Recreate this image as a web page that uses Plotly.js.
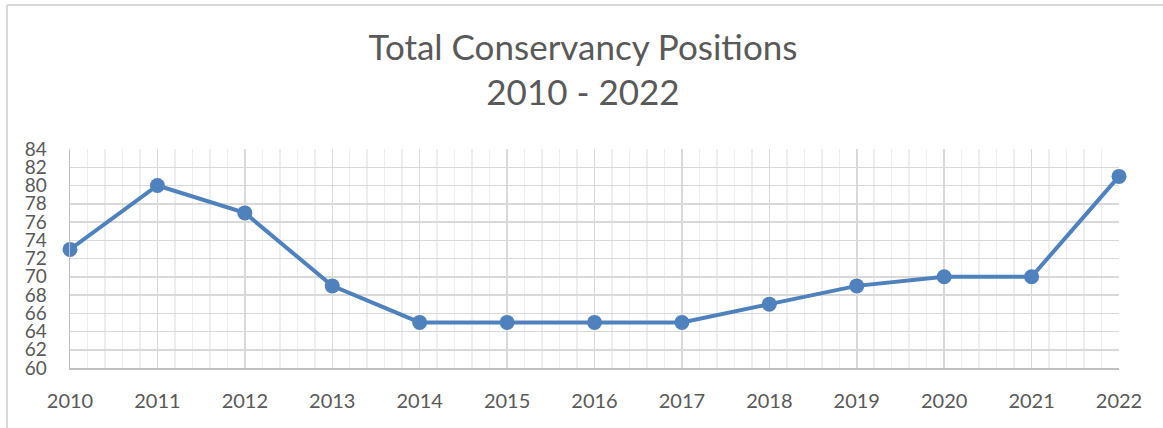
<!DOCTYPE html>
<html>
<head>
<meta charset="utf-8">
<script src="https://cdn.plot.ly/plotly-3.0.1.min.js"></script>
<style>html,body{margin:0;padding:0;background:#fff;}#chart{width:1163px;height:428px;}</style>
</head>
<body>
<div id="chart"></div>
<script>
const years = [2010, 2011, 2012, 2013, 2014, 2015, 2016, 2017, 2018, 2019, 2020, 2021, 2022];
const positions = [73, 80, 77, 69, 65, 65, 65, 65, 67, 69, 70, 70, 81];
const yTicks = [60, 62, 64, 66, 68, 70, 72, 74, 76, 78, 80, 82, 84];
const chartTitle = 'Total Conservancy Positions<br>2010 - 2022';

const trace = {
  x: years, y: positions, type: 'scatter', mode: 'lines+markers',
  line: {color: '#4f81bd', width: 4},
  marker: {color: '#4f81bd', size: 15},
  cliponaxis: false, hoverinfo: 'x+y'
};

const font = 'Lato, "Open Sans", sans-serif';
const layout = {
  width: 1163, height: 428,
  margin: {l: 70, r: 44, t: 149, b: 60},
  paper_bgcolor: '#fff', plot_bgcolor: '#fff',
  font: {family: font, color: '#595959', size: 20},
  title: {text: chartTitle, x: 0.489, xref: 'paper', y: 0.86, yanchor: 'middle',
          font: {family: font, size: 35, color: '#595959'}},
  showlegend: false,
  xaxis: {
    range: [2010, 2022], tickvals: years, ticktext: years.map(String),
    showgrid: true, gridcolor: '#d9d9d9', gridwidth: 1.5,
    minor: {dtick: 0.2, showgrid: true, gridcolor: '#eeeeee', gridwidth: 1.5},
    showline: true, linecolor: '#bfbfbf', linewidth: 1.5,
    ticks: '', ticklabelstandoff: 14, zeroline: false,
    tickfont: {size: 20, color: '#595959', family: font}
  },
  yaxis: {
    range: [60, 84], tickvals: yTicks,
    showgrid: true, gridcolor: '#d9d9d9', gridwidth: 1.5,
    showline: true, linecolor: '#bfbfbf', linewidth: 1.5,
    ticks: '', ticklabelstandoff: 18, zeroline: false,
    tickfont: {size: 19, color: '#595959', family: font}
  },
  shapes: [
    {type: 'line', xref: 'paper', yref: 'paper', x0: -0.0601, x1: 1.2, y0: 1.6575, y1: 1.6575,
     line: {color: '#d9d9d9', width: 2}, layer: 'below'},
    {type: 'line', xref: 'paper', yref: 'paper', x0: -0.0601, x1: -0.0601, y0: 1.6575, y1: -0.5,
     line: {color: '#d9d9d9', width: 2}, layer: 'below'}
  ]
};

Plotly.newPlot('chart', [trace], layout, {staticPlot: true, displayModeBar: false});
</script>
</body>
</html>
